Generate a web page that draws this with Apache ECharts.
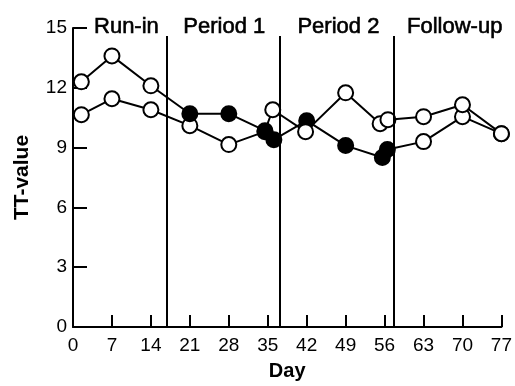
<!DOCTYPE html>
<html lang="en">
<head>
    <meta charset="UTF-8">
    <title>TT-value by day</title>
    <script src="https://cdn.jsdelivr.net/npm/echarts@6.0.0/dist/echarts.min.js"></script>
    <style>
        body { margin: 0; background: #fff; }
    </style>
</head>
<body>
    <div id="main" style="width: 515px;height:386px;"></div>

    <script>
        // group A: treated in period 1 (filled = on drug)
        var daysA = [1.5, 7, 14, 21, 28, 34.5, 35.9, 41.8, 49, 55.2, 56.6, 63, 70, 77];
        var ttA = [12.3, 13.6, 12.1, 10.7, 10.7, 9.85, 10.9, 9.8, 11.75, 10.2, 10.4, 10.55, 11.15, 9.7];
        var drugA = [0, 0, 0, 1, 1, 1, 0, 0, 0, 0, 0, 0, 0, 0];
        // group B: treated in period 2
        var daysB = [1.5, 7, 14, 21, 28, 34.5, 36.1, 42, 49, 55.6, 56.5, 63, 70, 77];
        var ttB = [10.65, 11.45, 10.9, 10.1, 9.15, 9.8, 9.4, 10.35, 9.1, 8.5, 8.9, 9.3, 10.55, 9.7];
        var drugB = [0, 0, 0, 0, 0, 0, 1, 1, 1, 1, 1, 0, 0, 0];

        // period boundaries (days) and label positions
        var bounds = [16.8, 37.2, 57.7];
        var periodNames = ['Run-in', 'Period 1', 'Period 2', 'Follow-up'];
        var periodLabelX = [9.6, 27.2, 47.7, 68.6];

        var font = 'Liberation Sans, Arial, Helvetica, sans-serif';

        function points(days, vals, drug) {
            return days.map(function (d, i) {
                var p = { value: [d, vals[i]] };
                if (drug[i]) p.itemStyle = { color: '#000' };
                return p;
            });
        }

        var baseSeries = {
            type: 'line',
            symbol: 'circle',
            symbolSize: 15,
            lineStyle: { color: '#000', width: 2 },
            itemStyle: { color: '#fff', borderColor: '#000', borderWidth: 2 },
            emphasis: { disabled: true },
            silent: true
        };

        var myChart = echarts.init(document.getElementById('main'));
        var option = {
            animation: false,
            backgroundColor: '#fff',
            grid: { left: 73, right: 9, top: 28, bottom: 58 },
            xAxis: {
                type: 'value',
                min: 0,
                max: 77,
                interval: 7,
                name: 'Day',
                nameLocation: 'middle',
                nameGap: 34,
                nameTextStyle: { fontFamily: font, fontSize: 20, fontWeight: 'bold', color: '#000' },
                axisLine: { lineStyle: { color: '#000', width: 2 } },
                axisTick: { inside: true, length: 12, lineStyle: { color: '#000', width: 2 } },
                axisLabel: { fontFamily: font, fontSize: 19, color: '#000', margin: 9 },
                splitLine: { show: false }
            },
            yAxis: {
                type: 'value',
                min: 0,
                max: 15,
                interval: 3,
                name: 'TT-value',
                nameLocation: 'middle',
                nameRotate: 90,
                nameGap: 40,
                nameTextStyle: { fontFamily: font, fontSize: 21, fontWeight: 'bold', color: '#000' },
                axisLine: { show: true, lineStyle: { color: '#000', width: 2 } },
                axisTick: { show: true, inside: true, length: 14, lineStyle: { color: '#000', width: 2 } },
                axisLabel: { fontFamily: font, fontSize: 19, color: '#000', margin: 6 },
                splitLine: { show: false }
            },
            series: [
                Object.assign({}, baseSeries, {
                    z: 2,
                    data: points(daysB, ttB, drugB)
                }),
                Object.assign({}, baseSeries, {
                    z: 3,
                    data: points(daysA, ttA, drugA),
                    markLine: {
                        silent: true,
                        symbol: 'none',
                        label: { show: false },
                        lineStyle: { color: '#000', width: 2, type: 'solid' },
                        data: bounds.map(function (b) {
                            return [{ coord: [b, 0] }, { coord: [b, 14.6] }];
                        })
                    },
                    markPoint: {
                        silent: true,
                        symbol: 'rect',
                        symbolSize: 2,
                        itemStyle: { color: 'rgba(255,255,255,0)', borderWidth: 0 },
                        label: {
                            show: true,
                            position: 'inside',
                            offset: [0, -1],
                            formatter: '{b}',
                            fontFamily: font,
                            fontSize: 22,
                            color: '#000',
                            textBorderColor: '#000',
                            textBorderWidth: 0.6
                        },
                        data: periodNames.map(function (n, i) {
                            return { name: n, coord: [periodLabelX[i], 15] };
                        })
                    }
                })
            ]
        };

        myChart.setOption(option);
    </script>
</body>
</html>
